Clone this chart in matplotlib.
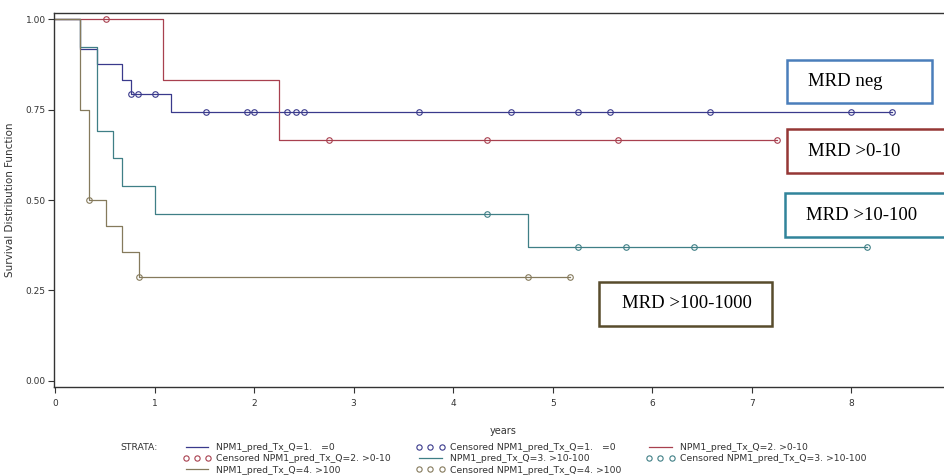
import numpy as np
import matplotlib
matplotlib.use("Agg")
import matplotlib.pyplot as plt
from matplotlib.lines import Line2D
from matplotlib.patches import Rectangle

# Kaplan-Meier curves (years, survival)
q1_time = [0, 0.25, 0.42, 0.67, 0.76, 1.17, 8.41]
q1_surv = [1.0, 0.917, 0.875, 0.833, 0.792, 0.743, 0.743]
q1_cens = [0.76, 0.83, 1.0, 1.52, 1.93, 2.0, 2.33, 2.42, 2.5, 3.66, 4.58, 5.25, 5.57, 6.58, 8.0, 8.41]

q2_time = [0, 1.08, 2.25, 7.25]
q2_surv = [1.0, 0.833, 0.667, 0.667]
q2_cens = [0.51, 2.75, 4.34, 5.66, 7.25]

q3_time = [0, 0.25, 0.42, 0.58, 0.67, 1.0, 4.75, 8.16]
q3_surv = [1.0, 0.923, 0.692, 0.615, 0.538, 0.462, 0.369, 0.369]
q3_cens = [4.34, 5.25, 5.74, 6.42, 8.16]

q4_time = [0, 0.25, 0.34, 0.51, 0.67, 0.84, 5.17]
q4_surv = [1.0, 0.75, 0.5, 0.429, 0.357, 0.286, 0.286]
q4_cens = [0.34, 0.84, 4.75, 5.17]

strata_labels = ["NPM1_pred_Tx_Q=1.   =0", "NPM1_pred_Tx_Q=2. >0-10",
                 "NPM1_pred_Tx_Q=3. >10-100", "NPM1_pred_Tx_Q=4. >100"]
box_labels = ["MRD neg", "MRD >0-10", "MRD >10-100", "MRD >100-1000"]

line_colors = ["#3a3a8c", "#a8404f", "#3f7f86", "#857a5c"]
box_colors = ["#4a7ebb", "#953735", "#31849b", "#584c2c"]

W, H = 945, 476
fig = plt.figure(figsize=(W / 100, H / 100), dpi=100)
ax = fig.add_axes([54 / W, (H - 387) / H, (W - 54) / W, 374 / H])

curves = [(q1_time, q1_surv, q1_cens), (q2_time, q2_surv, q2_cens),
          (q3_time, q3_surv, q3_cens), (q4_time, q4_surv, q4_cens)]

handles = []
for (t, s, c), col, lab in zip(curves, line_colors, strata_labels):
    ax.step(t, s, where="post", color=col, lw=0.9)
    idx = np.searchsorted(t, c, side="right") - 1
    ax.plot(c, np.array(s)[idx], "o", ms=4, mfc="none", mec=col, mew=0.8)
    handles.append(Line2D([], [], color=col, lw=0.9, label=lab))
    handles.append(Line2D([], [], ls="none", marker="o", ms=3.8, mfc="none",
                          mec=col, mew=0.8, label="Censored " + lab))

ax.set_xlim(-0.01, 8.94)
ax.set_ylim(-0.017, 1.017)
ax.set_xticks(range(0, 9))
ax.set_yticks([0, 0.25, 0.5, 0.75, 1.0])
ax.set_yticklabels(["0.00", "0.25", "0.50", "0.75", "1.00"])
ax.tick_params(direction="out", length=4, width=0.8, labelsize=6.5, colors="#333333")
ax.tick_params(axis="x", pad=5)
ax.tick_params(axis="y", pad=2)
for sp in ["left", "top", "bottom"]:
    ax.spines[sp].set_color("#333333")
    ax.spines[sp].set_linewidth(1.0)
ax.spines["right"].set_visible(False)

ax.set_ylabel("Survival Distribution Function", fontsize=7.5, color="#333333")
ax.yaxis.set_label_coords(-0.044, 0.5)
ax.set_xlabel("years", fontsize=7, color="#333333")
ax.xaxis.set_label_coords(0.504, -0.104)

# annotation boxes (pixel positions from the picture)
boxes = [(787, 60, 145, 43, 808), (787, 129, 175, 44, 808),
         (785, 193, 175, 44, 806), (599, 282, 173, 44, 622)]
for (x, y, w, h, tx), col, lab in zip(boxes, box_colors, box_labels):
    fig.add_artist(Rectangle((x / W, 1 - (y + h) / H), w / W, h / H,
                             transform=fig.transFigure, fill=True, fc="white",
                             ec=col, lw=1.8, zorder=5))
    fig.text(tx / W, 1 - (y + h / 2) / H, lab, family="Liberation Serif",
             fontsize=13.5, va="center", ha="left", zorder=6)

# legend, column-major order to reproduce row layout
order = [0, 3, 6, 1, 4, 7, 2, 5]
leg_h = [handles[i] for i in order]
fig.legend(handles=leg_h, labels=[h.get_label() for h in leg_h], ncol=3,
           loc="upper left", bbox_to_anchor=(183 / W, 1 - 443 / H),
           frameon=False, fontsize=6.7, handlelength=3, handletextpad=0.6,
           columnspacing=2.7, labelspacing=0.25, numpoints=3,
           borderpad=0, borderaxespad=0, labelcolor="#333333")
fig.text(120 / W, 1 - 448 / H, "STRATA:", fontsize=6.7, va="center", color="#333333")

fig.savefig("out.png", dpi=100)
